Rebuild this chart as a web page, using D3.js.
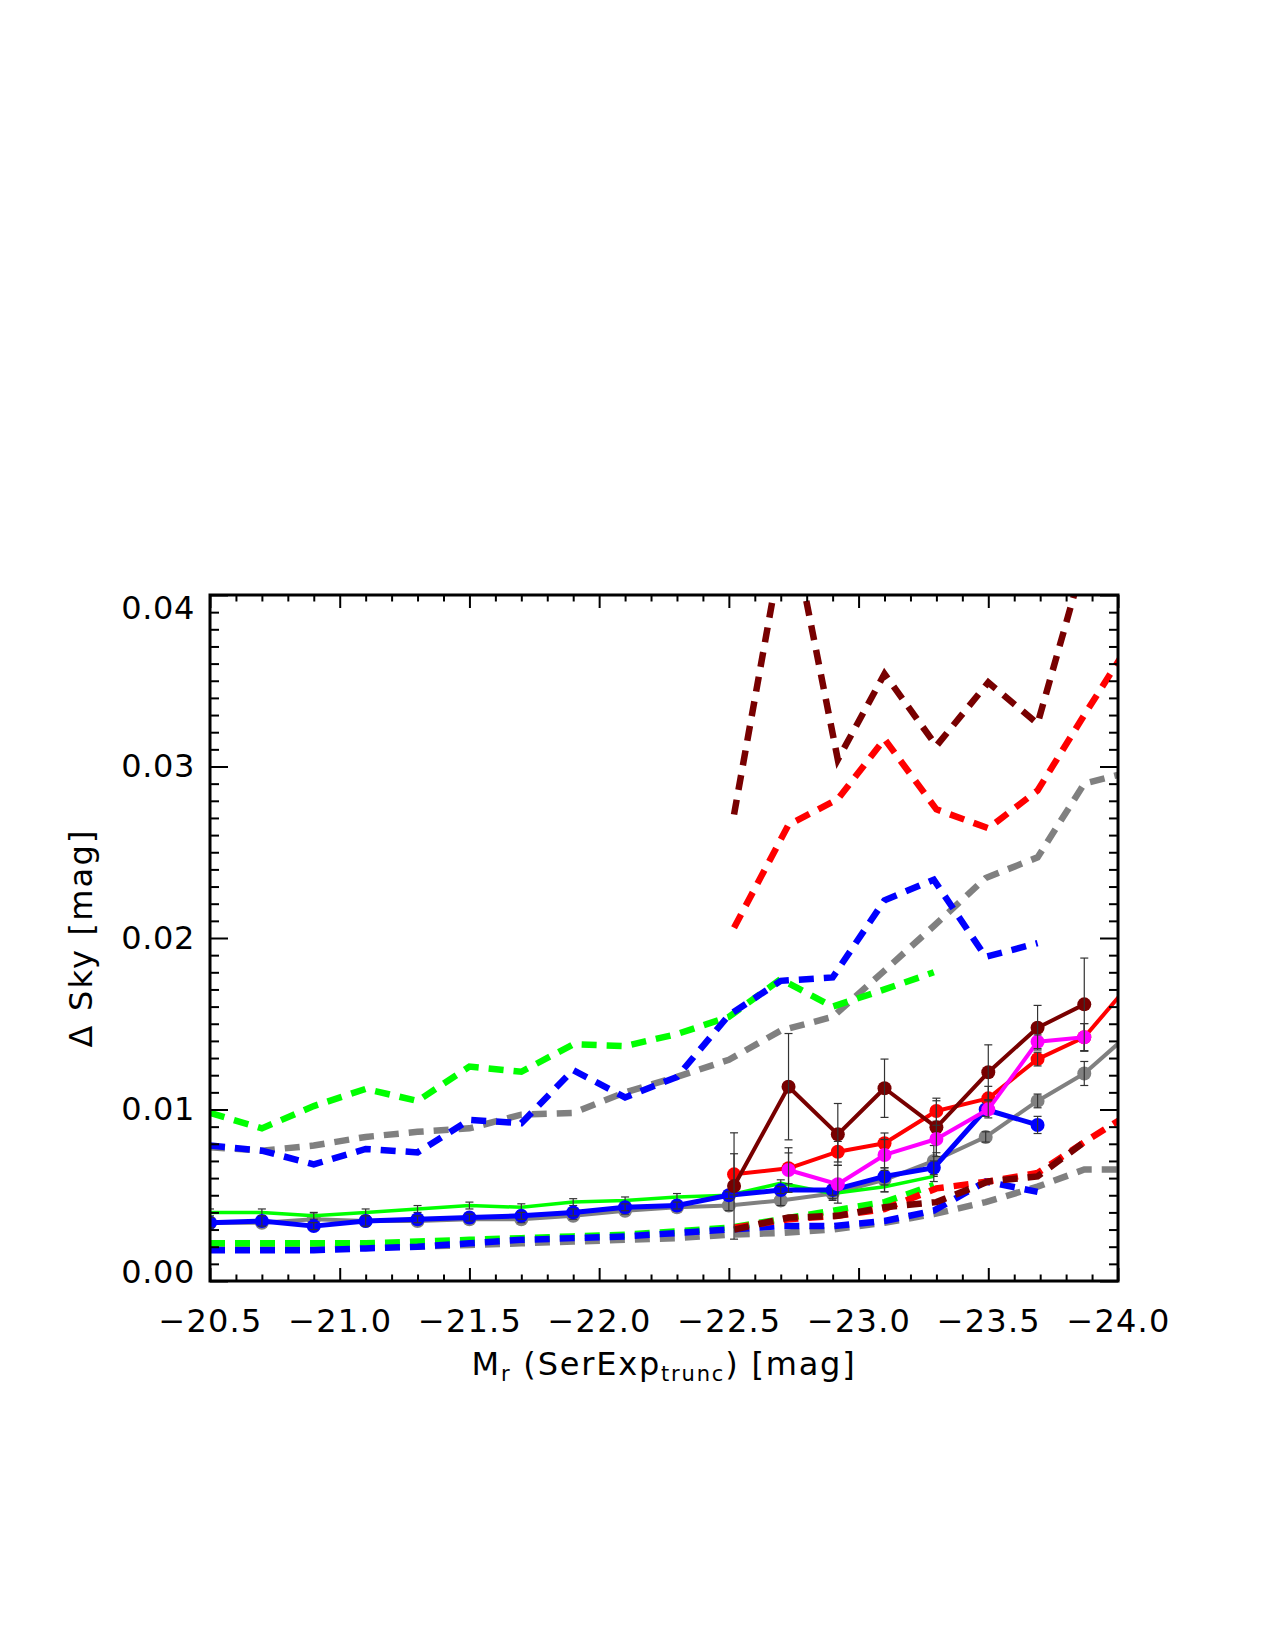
<!DOCTYPE html>
<html>
<head>
<meta charset="utf-8">
<script src="https://cdn.jsdelivr.net/npm/d3@7.9.0/dist/d3.min.js"></script>
<style>
  body { margin: 0; background: #fff; }
  svg text { font-family: "DejaVu Sans", sans-serif; fill: #000; }
</style>
</head>
<body>
<svg id="chart" width="1275" height="1650"></svg>
<script>
// magnitude bins (x)
const magFaint = [-20.50, -20.70, -20.90, -21.10, -21.30, -21.50, -21.70, -21.90, -22.10, -22.30,
                  -22.50, -22.70, -22.90, -23.10, -23.29, -23.49, -23.69, -23.87, -24.05];
const magBright = [-22.52, -22.73, -22.92, -23.10, -23.30, -23.50, -23.69, -23.87, -24.05];

const xTicks = [-20.5, -21.0, -21.5, -22.0, -22.5, -23.0, -23.5, -24.0];
const yTicks = [0.00, 0.01, 0.02, 0.03, 0.04];

// solid lines (with error bars)
const graySolid = [0.0034, 0.0034, 0.0036, 0.0035, 0.0035, 0.0036, 0.0036, 0.0038, 0.0041, 0.0043,
                   0.0044, 0.0047, 0.0051, 0.0059, 0.0070, 0.0084, 0.0105, 0.0121, 0.0145];
const grayErr = [0.0002, 0.0002, 0.0002, 0.0002, 0.0002, 0.0002, 0.0002, 0.0002, 0.0002, 0.0002,
                 0.0003, 0.0003, 0.0004, 0.0007, 0.0009, 0.0003, 0.0004, 0.0007, null];
const greenSolid = [0.0040, 0.0040, 0.0038, 0.0040, 0.0042, 0.0044, 0.0043, 0.0046, 0.0047, 0.0049,
                    0.0050, 0.0057, 0.0051, 0.0055, 0.0061];
const greenErr = [0.0002, 0.0002, 0.0002, 0.0002, 0.0002, 0.0002, 0.0002, 0.0002, 0.0002, 0.0002,
                  0.0002, 0.0002, 0.0003, 0.0003, 0.0003];
const blueSolid = [0.0034, 0.0035, 0.0032, 0.0035, 0.0036, 0.0037, 0.0038, 0.0040, 0.0043, 0.0044,
                   0.0050, 0.0053, 0.0053, 0.0061, 0.0066, 0.0100, 0.0091];
const blueErr = [0.0003, 0.0003, 0.0002, 0.0003, 0.0002, 0.0002, 0.0002, 0.0002, 0.0002, 0.0002,
                 0.0002, 0.0002, 0.0003, 0.0005, 0.0004, 0.0004, 0.0005];
const redSolid = [0.00622, 0.00657, 0.00754, 0.00803, 0.00991, 0.01065, 0.01294, 0.01421, 0.0174];
const redErr = [0.0012, 0.0009, 0.0006, 0.0006, 0.0006, 0.0007, 0.0004, 0.0008, null];
const maroonSolid = [0.00554, 0.01133, 0.00855, 0.01124, 0.00896, 0.01217, 0.01477, 0.01613, null];
const maroonErr = [0.0031, 0.0031, 0.0018, 0.0017, 0.0017, 0.0016, 0.0013, 0.0027, null];
const magentaSolid = [null, 0.00647, 0.00564, 0.00735, 0.00828, 0.01001, 0.01395, 0.01421, null];
const magentaErr = [null, 0.0013, 0.0011, 0.0009, 0.0008, 0.0005, 0.0004, 0.0008, null];

// dashed lines, upper set
const grayDashHi = [0.0078, 0.0076, 0.0079, 0.0084, 0.0087, 0.0089, 0.0097, 0.0098, 0.0110, 0.0119,
                    0.0129, 0.0146, 0.0154, 0.0181, 0.0207, 0.0235, 0.0247, 0.0290, 0.0297];
const greenDashHi = [0.0098, 0.0089, 0.0102, 0.0112, 0.0105, 0.0125, 0.0122, 0.0138, 0.0137, 0.0144,
                     0.0154, 0.0176, 0.0160, 0.0170, 0.0180];
const blueDashHi = [0.0079, 0.0076, 0.0068, 0.0077, 0.0075, 0.0094, 0.0092, 0.0123, 0.0107, 0.0119,
                    0.0155, 0.0175, 0.0177, 0.0222, 0.0234, 0.0189, 0.0197];
const redDashHi = [0.0206, 0.0266, 0.0281, 0.0316, 0.0275, 0.0264, 0.0286, 0.0330, 0.0373];
const maroonDashHi = [0.0272, 0.0449, 0.0304, 0.0354, 0.0312, 0.0349, 0.0325, 0.0421, null];

// dashed lines, lower set
const grayDashLo = [0.0019, 0.0019, 0.0019, 0.0020, 0.0020, 0.0021, 0.0022, 0.0023, 0.0024, 0.0025,
                    0.0027, 0.0028, 0.0030, 0.0034, 0.0039, 0.0046, 0.0055, 0.0065, 0.0065];
const greenDashLo = [0.0022, 0.0022, 0.0022, 0.0022, 0.0023, 0.0024, 0.0025, 0.0026, 0.0027, 0.0029,
                     0.0031, 0.0036, 0.0041, 0.0046, 0.0056];
const blueDashLo = [0.0018, 0.0018, 0.0018, 0.0019, 0.0020, 0.0022, 0.0024, 0.0025, 0.0026, 0.0028,
                    0.0030, 0.0032, 0.0032, 0.0035, 0.0041, 0.0058, 0.0052];
const redDashLo = [0.0031, 0.0036, 0.0038, 0.0042, 0.0054, 0.0058, 0.0063, 0.0081, 0.0098];
const maroonDashLo = [0.0030, 0.0037, 0.0038, 0.0043, 0.0046, 0.0058, 0.0061, 0.0081, null];

const GRAY = '#808080', GREEN = '#00ff00', BLUE = '#0000ff', RED = '#ff0000',
      MAROON = '#780000', MAGENTA = '#ff00ff';

const svg = d3.select('#chart');
const pLeft = 210, pRight = 1118, pTop = 595, pBottom = 1281;

const x = d3.scaleLinear().domain([-20.5, -24.0]).range([pLeft, pRight]);
const y = d3.scaleLinear().domain([0, 0.04]).range([pBottom, pTop]);

svg.append('rect').attr('width', 1275).attr('height', 1650).attr('fill', '#fff');

svg.append('defs').append('clipPath').attr('id', 'plotclip')
  .append('rect').attr('x', pLeft).attr('y', pTop)
  .attr('width', pRight - pLeft).attr('height', pBottom - pTop);

const plot = svg.append('g').attr('clip-path', 'url(#plotclip)');

const zip = (xs, ys) => ys.map((v, i) => ({ x: xs[i], v: v })).filter(d => d.x != null);
const line = d3.line().defined(d => d.v != null).x(d => x(d.x)).y(d => y(d.v));

function dashed(xs, ys, color) {
  plot.append('path')
    .attr('d', line(zip(xs, ys)))
    .attr('fill', 'none')
    .attr('stroke', color)
    .attr('stroke-width', 6.5)
    .attr('stroke-dasharray', '15,10');
}

function solid(xs, ys, errs, color, width, markers) {
  const pts = zip(xs, ys);
  plot.append('path')
    .attr('d', line(pts))
    .attr('fill', 'none')
    .attr('stroke', color)
    .attr('stroke-width', width)
    .attr('stroke-linejoin', 'round');
  if (markers) {
    plot.selectAll(null)
      .data(pts.filter(d => d.v != null))
      .join('circle')
      .attr('cx', d => x(d.x))
      .attr('cy', d => y(d.v))
      .attr('r', 7)
      .attr('fill', color);
  }
  const eb = pts.map((d, i) => ({ ...d, e: errs[i] })).filter(d => d.v != null && d.e != null);
  const g = plot.append('g').attr('stroke', '#333').attr('stroke-width', 1.2);
  eb.forEach(d => {
    const cx = x(d.x), y1 = y(d.v + d.e), y0 = y(d.v - d.e);
    g.append('line').attr('x1', cx).attr('x2', cx).attr('y1', y1).attr('y2', y0);
    g.append('line').attr('x1', cx - 4).attr('x2', cx + 4).attr('y1', y1).attr('y2', y1);
    g.append('line').attr('x1', cx - 4).attr('x2', cx + 4).attr('y1', y0).attr('y2', y0);
  });
}

// draw, roughly in the original plotting order
dashed(magFaint, grayDashLo, GRAY);
dashed(magFaint, grayDashHi, GRAY);
solid(magFaint, graySolid, grayErr, GRAY, 4, true);

dashed(magFaint, greenDashLo, GREEN);
dashed(magFaint, greenDashHi, GREEN);
solid(magFaint, greenSolid, greenErr, GREEN, 3.5, false);

dashed(magFaint, blueDashLo, BLUE);
dashed(magFaint, blueDashHi, BLUE);
solid(magFaint, blueSolid, blueErr, BLUE, 5, true);

dashed(magBright, redDashLo, RED);
dashed(magBright, redDashHi, RED);
solid(magBright, redSolid, redErr, RED, 4, true);

dashed(magBright, maroonDashLo, MAROON);
dashed(magBright, maroonDashHi, MAROON);
solid(magBright, maroonSolid, maroonErr, MAROON, 4, true);

solid(magBright, magentaSolid, magentaErr, MAGENTA, 4, true);

// axes: ticks inward on all four sides
const xMinor = d3.range(-20.5, -24.05, -0.1).map(v => +v.toFixed(1))
  .filter(v => !xTicks.some(t => Math.abs(t - v) < 1e-6));
const yMinor = d3.range(0, 0.0405, 0.001).map(v => +v.toFixed(3))
  .filter(v => !yTicks.some(t => Math.abs(t - v) < 1e-9));

function axisGroup(axis, tx, ty) {
  const g = svg.append('g').attr('transform', `translate(${tx},${ty})`).call(axis);
  g.select('.domain').remove();
  g.selectAll('line').attr('stroke', '#000').attr('stroke-width', 2);
  return g;
}

const xb = axisGroup(d3.axisBottom(x).tickValues(xTicks).tickFormat(d3.format('.1f'))
  .tickSize(-13).tickPadding(28), 0, pBottom);
xb.selectAll('text').attr('font-size', 32).attr('letter-spacing', 1.2);
axisGroup(d3.axisBottom(x).tickValues(xMinor).tickFormat('').tickSize(-6.5), 0, pBottom);
axisGroup(d3.axisTop(x).tickValues(xTicks).tickFormat('').tickSize(-13), 0, pTop);
axisGroup(d3.axisTop(x).tickValues(xMinor).tickFormat('').tickSize(-6.5), 0, pTop);

const yl = axisGroup(d3.axisLeft(y).tickValues(yTicks).tickFormat(d3.format('.2f'))
  .tickSize(-18).tickPadding(15), pLeft, 0);
yl.selectAll('text').attr('font-size', 32).attr('letter-spacing', 0.6);
// end labels are pulled inside the box
yl.selectAll('.tick text').attr('dy', d => d === 0.04 ? '0.72em' : d === 0 ? '0.05em' : '0.32em');
axisGroup(d3.axisLeft(y).tickValues(yMinor).tickFormat('').tickSize(-9), pLeft, 0);
axisGroup(d3.axisRight(y).tickValues(yTicks).tickFormat('').tickSize(-18), pRight, 0);
axisGroup(d3.axisRight(y).tickValues(yMinor).tickFormat('').tickSize(-9), pRight, 0);

svg.append('rect')
  .attr('x', pLeft).attr('y', pTop)
  .attr('width', pRight - pLeft).attr('height', pBottom - pTop)
  .attr('fill', 'none').attr('stroke', '#000').attr('stroke-width', 3);

// axis titles
const xt = svg.append('text')
  .attr('x', (pLeft + pRight) / 2).attr('y', 1375)
  .attr('text-anchor', 'middle').attr('font-size', 32).attr('letter-spacing', 1.8);
xt.append('tspan').text('M');
xt.append('tspan').attr('font-size', 21).attr('dy', 6).text('r');
xt.append('tspan').attr('dy', -6).text(' (SerExp');
xt.append('tspan').attr('font-size', 21).attr('dy', 6).text('trunc');
xt.append('tspan').attr('dy', -6).text(') [mag]');

svg.append('text')
  .attr('transform', `translate(92,${(pTop + pBottom) / 2}) rotate(-90)`)
  .attr('text-anchor', 'middle').attr('font-size', 32).attr('letter-spacing', 2.2)
  .text('Δ Sky [mag]');
</script>
</body>
</html>
